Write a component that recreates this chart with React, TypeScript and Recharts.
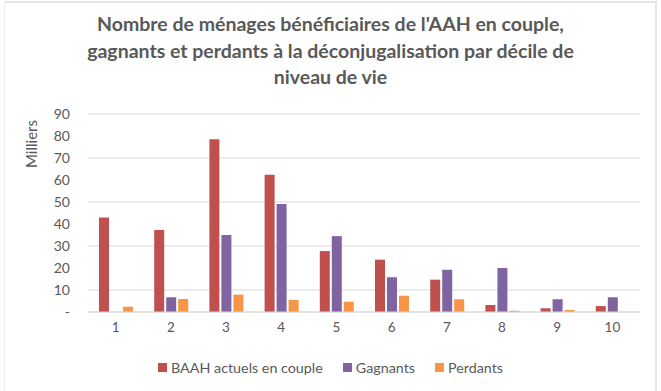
import { BarChart, Bar, XAxis, YAxis, CartesianGrid, Legend } from 'recharts';

const deciles = ['1', '2', '3', '4', '5', '6', '7', '8', '9', '10'];
const baahCouple = [43, 37.3, 78.5, 62.4, 27.7, 23.8, 14.7, 3.2, 1.7, 2.7];
const gagnants = [0, 6.7, 35, 49.1, 34.5, 15.8, 19.2, 20, 5.8, 6.7];
const perdants = [2.4, 5.9, 7.9, 5.5, 4.7, 7.4, 5.8, 0.6, 0.9, 0];
const yTicks = [0, 10, 20, 30, 40, 50, 60, 70, 80, 90];

const titleLines = [
  "Nombre de ménages bénéficiaires de l'AAH en couple,",
  'gagnants et perdants à la déconjugalisation par décile de',
  'niveau de vie',
];

const FONT = 'Lato, "Open Sans", sans-serif';
const GREY = '#595959';

const data = deciles.map((d, i) => ({
  decile: d,
  baah: baahCouple[i],
  gagnants: gagnants[i],
  perdants: perdants[i],
}));

const series = [
  { key: 'baah', name: 'BAAH actuels en couple', color: '#C0504D' },
  { key: 'gagnants', name: 'Gagnants', color: '#8064A2' },
  { key: 'perdants', name: 'Perdants', color: '#F79646' },
];

function LegendRow() {
  return (
    <div style={{ display: 'flex', justifyContent: 'center', fontFamily: FONT, fontSize: 14.3, color: GREY, height: 20, alignItems: 'center' }}>
      {series.map((s) => (
        <span key={s.key} style={{ display: 'inline-flex', alignItems: 'center', margin: '0 10px' }}>
          <span style={{ width: 9, height: 9, background: s.color, display: 'inline-block', marginRight: 4 }} />
          {s.name}
        </span>
      ))}
    </div>
  );
}

export default function App() {
  return (
    <div style={{ position: 'absolute', left: 0, top: 0, width: 661, height: 391, background: '#fff', overflow: 'hidden' }}>
      <div style={{ position: 'absolute', left: 4, top: 1, width: 650, height: 400, borderTop: '2px solid #e6e6e6', borderLeft: '1px solid #efefef', borderRight: '2px solid #e6e6e6' }} />
      <div style={{ position: 'absolute', left: 0, top: 11, width: 661, textAlign: 'center', fontFamily: FONT, fontWeight: 700, fontSize: 19.5, lineHeight: '26.5px', color: GREY }}>
        {titleLines.map((l) => (
          <div key={l}>{l}</div>
        ))}
      </div>
      <BarChart
        width={661}
        height={391}
        data={data}
        margin={{ top: 114, right: 21, bottom: 29, left: 0 }}
        barGap={2}
        barSize={10}
      >
        <CartesianGrid vertical={false} stroke="#d9d9d9" />
        <XAxis
          dataKey="decile"
          axisLine={{ stroke: '#d9d9d9' }}
          tickLine={false}
          tickSize={0}
          tickMargin={10}
          height={30}
          tick={{ fill: GREY, fontSize: 13.5, fontFamily: FONT }}
        />
        <YAxis
          domain={[0, 90]}
          ticks={yTicks}
          width={88}
          axisLine={false}
          tickLine={false}
          tickSize={0}
          tickMargin={18}
          tickFormatter={(v: number) => (v === 0 ? '-' : String(v))}
          tick={{ fill: GREY, fontSize: 14, fontFamily: FONT }}
          label={{
            content: () => (
              <text x={37} y={144} transform="rotate(-90 37 144)" textAnchor="middle" fill={GREY} fontSize={15} fontFamily={FONT}>
                Milliers
              </text>
            ),
          }}
        />
        <Legend content={() => <LegendRow />} wrapperStyle={{ top: 357, left: 0, width: 661 }} />
        {series.map((s) => (
          <Bar key={s.key} dataKey={s.key} name={s.name} fill={s.color} isAnimationActive={false} />
        ))}
      </BarChart>
    </div>
  );
}
